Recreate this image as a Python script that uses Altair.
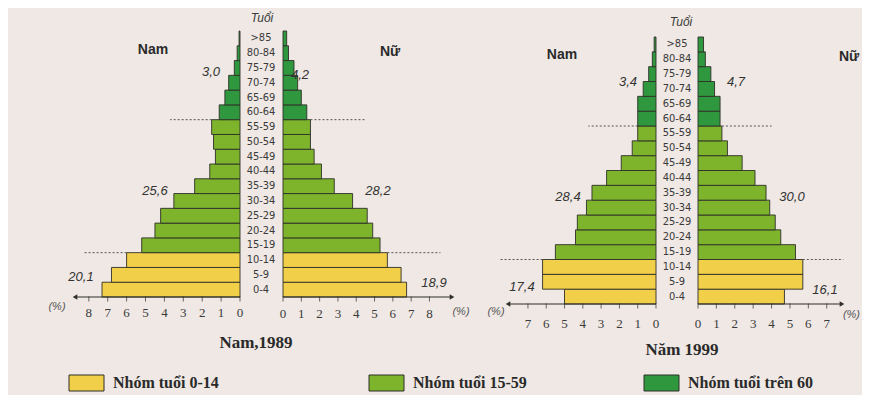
import altair as alt
import pandas as pd

# ---------------- data ----------------
ages = ["0-4", "5-9", "10-14", "15-19", "20-24", "25-29", "30-34", "35-39", "40-44",
        "45-49", "50-54", "55-59", "60-64", "65-69", "70-74", "75-79", "80-84", ">85"]
group_names = ["Nhóm tuổi 0-14", "Nhóm tuổi 15-59", "Nhóm tuổi trên 60"]
groups = [group_names[0]] * 3 + [group_names[1]] * 9 + [group_names[2]] * 6
group_colors = ["#f1cf48", "#7db42c", "#2f983e"]

male_1989 = [7.3, 6.8, 6.0, 5.2, 4.5, 4.2, 3.5, 2.4, 1.6, 1.3, 1.4, 1.5, 1.1, 0.8, 0.6, 0.3, 0.15, 0.05]
female_1989 = [6.75, 6.45, 5.7, 5.3, 4.9, 4.6, 3.8, 2.8, 2.1, 1.7, 1.5, 1.5, 1.3, 1.0, 0.8, 0.6, 0.3, 0.2]
male_1999 = [5.0, 6.2, 6.2, 5.5, 4.4, 4.3, 3.8, 3.5, 2.7, 1.9, 1.3, 1.0, 1.0, 1.0, 0.7, 0.4, 0.2, 0.1]
female_1999 = [4.7, 5.7, 5.7, 5.3, 4.5, 4.2, 3.9, 3.7, 3.1, 2.4, 1.6, 1.3, 1.2, 1.2, 0.9, 0.7, 0.4, 0.3]

totals_1989_male = ["20,1", "25,6", "3,0"]
totals_1989_female = ["18,9", "28,2", "4,2"]
totals_1999_male = ["17,4", "28,4", "3,4"]
totals_1999_female = ["16,1", "30,0", "4,7"]

ticks_1989 = [0, 1, 2, 3, 4, 5, 6, 7, 8]
ticks_1999 = [0, 1, 2, 3, 4, 5, 6, 7]

ages_top = ages[::-1]
OFF = 8  # page margin

INK = "#2f2f28"
TXT = "#3a3a3a"


def xs(zero_px, end_px, dmax):
    return alt.Scale(domain=[0, dmax], range=[zero_px - OFF, end_px - OFF], nice=False, zero=False)


def ys(top_px, bottom_px):
    return alt.Scale(domain=ages_top, range=[top_px - OFF, bottom_px - OFF],
                     paddingInner=0, paddingOuter=0)


def bars(vals, xscale, yscale):
    df = pd.DataFrame({"age": ages, "value": vals, "group": groups})
    return alt.Chart(df).mark_bar(stroke=INK, strokeWidth=0.9).encode(
        y=alt.Y("age:N", scale=yscale, axis=None),
        x=alt.X("value:Q", scale=xscale, axis=None),
        x2=alt.datum(0),
        color=alt.Color("group:N", scale=alt.Scale(domain=group_names, range=group_colors), legend=None),
    )


def axis_layers(xscale, yscale, half, dmax, ticks, arrow, label_dy):
    one = pd.DataFrame({"k": [0]})
    base_y = alt.Y(datum="0-4", scale=yscale, axis=None)
    line = alt.Chart(one).mark_rule(color=INK, strokeWidth=1.2, yOffset=half).encode(
        x=alt.X(datum=0, scale=xscale, axis=None), x2=alt.datum(dmax), y=base_y)
    tdf = pd.DataFrame({"t": ticks})
    tk = alt.Chart(tdf).mark_tick(color=INK, size=5, thickness=1, yOffset=half + 2).encode(
        x=alt.X("t:Q", scale=xscale, axis=None), y=base_y)
    lab = alt.Chart(tdf).mark_text(font="Liberation Serif", fontSize=13, color=TXT,
                                   baseline="middle", yOffset=half + label_dy).encode(
        x=alt.X("t:Q", scale=xscale, axis=None), y=base_y, text="t:Q")
    arr = alt.Chart(one).mark_point(shape=arrow, filled=True, size=28, color=INK, opacity=1,
                                    yOffset=half).encode(
        x=alt.X(datum=dmax, scale=xscale, axis=None), y=base_y)
    return [line, tk, lab, arr]


def dashes(xscale, yscale, half, spans):
    out = []
    for age, a, b in spans:
        out.append(alt.Chart(pd.DataFrame({"k": [0]})).mark_rule(
            color="#555555", strokeWidth=1, strokeDash=[2, 2], yOffset=half).encode(
            x=alt.X(datum=a, scale=xscale, axis=None), x2=alt.datum(b),
            y=alt.Y(datum=age, scale=yscale, axis=None)))
    return out


def txt(text, x, y, **style):
    return alt.Chart(pd.DataFrame({"t": [text]})).mark_text(**style).encode(
        x=alt.value(x - OFF), y=alt.value(y - OFF), text="t:N")


def age_labels(cx, yscale):
    df = pd.DataFrame({"age": ages})
    return alt.Chart(df).mark_text(font="Liberation Sans Narrow, DejaVu Sans Condensed, sans-serif",
                                   fontSize=11, color=TXT, baseline="middle").encode(
        x=alt.value(cx - OFF), y=alt.Y("age:N", scale=yscale, axis=None), text="age:N")


ann = dict(font="Liberation Sans Narrow, Liberation Sans, sans-serif", fontSize=13,
           fontStyle="italic", color="#333333", baseline="middle")
pct = dict(font="Liberation Sans", fontSize=11, fontStyle="italic", color="#555555", baseline="middle")
sexs = dict(font="Liberation Sans", fontSize=14, fontWeight="bold", color="#2a2a2a", baseline="middle")
ttl = dict(font="Liberation Serif", fontSize=17, fontWeight="bold", color="#2a2a2a", baseline="middle")

# scales (pixel placement of each half-pyramid)
y89 = ys(31, 297)
y99 = ys(37, 304)
h89 = (297 - 31) / 18 / 2
h99 = (304 - 37) / 18 / 2
xm89 = xs(240, 75, 8.73)
xf89 = xs(283, 452, 9.23)
xm99 = xs(656, 508, 8.09)
xf99 = xs(698, 842, 7.83)

layers = []
# 1989
layers += dashes(xm89, y89, h89, [("60-64", 1.5, 3.7), ("15-19", 6.0, 8.25)])
layers += dashes(xf89, y89, h89, [("60-64", 1.5, 4.5), ("15-19", 5.7, 8.6)])
layers += [bars(male_1989, xm89, y89), bars(female_1989, xf89, y89)]
layers += axis_layers(xm89, y89, h89, 8.73, ticks_1989, "triangle-left", 16)
layers += axis_layers(xf89, y89, h89, 9.23, ticks_1989, "triangle-right", 17)
layers += [age_labels(261, y89)]
# 1999
layers += dashes(xm99, y99, h99, [("60-64", 1.0, 3.7), ("15-19", 6.2, 8.5)])
layers += dashes(xf99, y99, h99, [("60-64", 1.3, 4.0), ("15-19", 5.7, 7.9)])
layers += [bars(male_1999, xm99, y99), bars(female_1999, xf99, y99)]
layers += axis_layers(xm99, y99, h99, 8.09, ticks_1999, "triangle-left", 20)
layers += axis_layers(xf99, y99, h99, 7.83, ticks_1999, "triangle-right", 20)
layers += [age_labels(677, y99)]

# annotations
layers += [
    txt(totals_1989_male[2], 211, 72, **ann), txt(totals_1989_female[2], 300, 75, **ann),
    txt(totals_1989_male[1], 155, 191, **ann), txt(totals_1989_female[1], 378, 191, **ann),
    txt(totals_1989_male[0], 81, 277, **ann), txt(totals_1989_female[0], 434, 283, **ann),
    txt(totals_1999_male[2], 628, 82, **ann), txt(totals_1999_female[2], 736, 82, **ann),
    txt(totals_1999_male[1], 568, 197, **ann), txt(totals_1999_female[1], 792, 197, **ann),
    txt(totals_1999_male[0], 522, 287, **ann), txt(totals_1999_female[0], 825, 290, **ann),
    txt("Tuổi", 262, 18, font="Liberation Sans Narrow, Liberation Sans", fontSize=12,
        fontStyle="italic", color=TXT, baseline="middle"),
    txt("Tuổi", 681, 22, font="Liberation Sans Narrow, Liberation Sans", fontSize=12,
        fontStyle="italic", color=TXT, baseline="middle"),
    txt("Nam", 153, 50, **sexs), txt("Nữ", 390, 52, **sexs),
    txt("Nam", 562, 55, **sexs), txt("Nữ", 849, 57, **sexs),
    txt("(%)", 57, 307, **pct), txt("(%)", 461, 312, **pct),
    txt("(%)", 496, 312, **pct),
    txt("(%)", 860, 315, align="right", **pct),
    txt("Nam,1989", 256, 343, **ttl), txt("Năm 1999", 682, 350, **ttl),
]

# legend (manual)
leg_y = 383
for i, (bx, tx) in enumerate([(69, 113), (369, 413), (644, 688)]):
    layers.append(alt.Chart(pd.DataFrame({"k": [0]})).mark_rect(
        fill=group_colors[i], stroke=INK, strokeWidth=1).encode(
        x=alt.value(bx - OFF), x2=alt.value(bx + 35 - OFF),
        y=alt.value(leg_y - 8 - OFF), y2=alt.value(leg_y + 8 - OFF)))
    layers.append(txt(group_names[i], tx, leg_y, font="Liberation Serif", fontSize=16,
                      fontWeight="bold", color="#2a2a2a", align="left"))

chart = alt.layer(*layers).resolve_scale(x="independent", y="independent").properties(
    width=854, height=387, padding=0,
    autosize=alt.AutoSizeParams(type="none"),
    background="#efe8e4",
).configure_view(stroke=None)

chart.save("out.html", embed_options={"renderer": "svg", "actions": False})
